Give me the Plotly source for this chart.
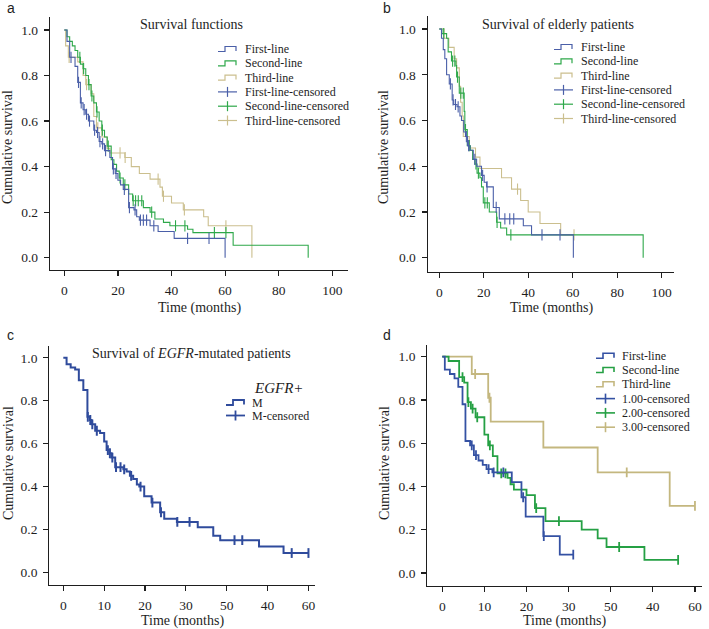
import plotly.graph_objects as go

W, H = 709, 629

# ---------------- DATA ----------------
# Panel a: Survival functions
A1_t = [0, 1, 2, 4, 5, 6, 7, 8, 9, 11, 12, 13, 14, 15, 17, 18, 19, 20, 21, 22, 24, 26, 27, 28, 32, 35, 41, 60]
A1_s = [1.0, 0.95, 0.88, 0.84, 0.77, 0.68, 0.65, 0.63, 0.60, 0.56, 0.55, 0.51, 0.50, 0.47, 0.44, 0.39, 0.37, 0.34, 0.32, 0.30, 0.22, 0.21, 0.18, 0.165, 0.14, 0.115, 0.085, 0.0]
A1_c = [2.5, 5.3, 6.3, 7.4, 8.3, 9.4, 11.3, 12.4, 13.3, 14.3, 15.4, 18.3, 19.3, 22.4, 24.3, 26.4, 28.4, 29.5, 30.7, 33.4, 46, 54]

A2_t = [0, 1, 2, 3, 4, 5, 6, 7, 8, 9, 10, 11, 12, 13, 14, 15, 16, 17.5, 18.5, 19.5, 20.5, 22, 24, 25.5, 29.5, 32, 33.8, 37, 39.4, 46, 48, 63, 91]
A2_s = [1.0, 0.97, 0.95, 0.93, 0.91, 0.88, 0.85, 0.83, 0.80, 0.76, 0.71, 0.68, 0.64, 0.60, 0.56, 0.53, 0.49, 0.43, 0.41, 0.38, 0.35, 0.32, 0.28, 0.25, 0.22, 0.20, 0.17, 0.155, 0.14, 0.125, 0.11, 0.055, 0.0]
A2_c = [5.8, 7.2, 9.2, 10.3, 12.2, 14.2, 16.4, 20.8, 22.6, 25.7, 26.6, 27.6, 28.9, 32.6, 41.5, 45, 56, 60.3]

A3_t = [0, 0.5, 1.5, 5, 7, 8, 10, 11, 12, 14, 16, 17, 22.6, 25, 28, 32, 35.7, 36.6, 40, 44.4, 52, 53.7, 70]
A3_s = [1.0, 0.93, 0.88, 0.86, 0.80, 0.76, 0.72, 0.62, 0.57, 0.53, 0.48, 0.46, 0.44, 0.40, 0.37, 0.345, 0.31, 0.27, 0.24, 0.21, 0.18, 0.14, 0.0]
A3_c = [1.8, 8.3, 12.5, 20.8, 22.7, 35, 37, 44.8, 60.3]

# Panel b: Survival of elderly patients
B1_t = [0, 1, 1.8, 2.5, 3.3, 4.5, 5.8, 6.5, 8, 9.3, 10, 11, 11.8, 12.7, 13.8, 15.3, 16.8, 19, 20.2, 21.3, 24.3, 27, 37.8, 41.5, 60.3]
B1_s = [1.0, 0.96, 0.91, 0.87, 0.80, 0.76, 0.69, 0.67, 0.66, 0.62, 0.60, 0.55, 0.53, 0.49, 0.47, 0.43, 0.40, 0.36, 0.33, 0.31, 0.22, 0.17, 0.14, 0.10, 0.0]
B1_c = [5.0, 6.2, 7.3, 8.5, 12.2, 13.2, 16.0, 19.5, 21.5, 25.6, 29.5, 31.7, 33.5, 46.2, 54.3]

B2_t = [0, 1.2, 3.3, 4, 5.5, 7.5, 7.8, 9, 11.2, 11.5, 12.6, 14, 15, 16, 17, 18.3, 19, 19.8, 22.5, 25.8, 27.6, 30.3, 91.7]
B2_s = [1.0, 0.98, 0.96, 0.90, 0.86, 0.84, 0.79, 0.72, 0.64, 0.56, 0.49, 0.47, 0.43, 0.41, 0.37, 0.35, 0.31, 0.24, 0.20, 0.155, 0.13, 0.10, 0.0]
B2_c = [2.0, 6.0, 7.0, 8.2, 9.7, 10.8, 11.8, 13.5, 16.5, 17.6, 20.5, 21.6, 26.0, 32.2]

B3_t = [0, 2.2, 4.3, 6.7, 7.8, 9.0, 9.6, 10.3, 10.8, 13.5, 16.3, 18.3, 28.0, 32.5, 36.6, 40.0, 45.3, 54.6, 60.6]
B3_s = [1.0, 0.96, 0.92, 0.87, 0.83, 0.75, 0.68, 0.62, 0.53, 0.48, 0.44, 0.39, 0.35, 0.30, 0.25, 0.20, 0.15, 0.10, 0.10]
B3_c = [35.2, 60.6]

# Panel c: Survival of EGFR-mutated patients
C_t = [0, 0.8, 1.8, 2.9, 3.8, 4.9, 5.9, 6.5, 6.9, 7.8, 9.0, 10.0, 10.6, 11.3, 11.8, 12.7, 14.7, 15.5, 16.3, 17.1, 18.0, 18.6, 19.8, 21.6, 23.7, 24.7, 27.8, 32.9, 36.7, 38.4, 47.9, 53.9, 60.0]
C_s = [1.0, 0.97, 0.955, 0.945, 0.895, 0.85, 0.725, 0.71, 0.69, 0.66, 0.65, 0.61, 0.57, 0.555, 0.535, 0.49, 0.48, 0.47, 0.45, 0.435, 0.41, 0.40, 0.355, 0.325, 0.28, 0.25, 0.235, 0.21, 0.17, 0.15, 0.12, 0.09, 0.09]
C_c = [6.0, 6.6, 7.1, 8.2, 10.9, 11.4, 12.0, 12.9, 14.0, 14.9, 16.6, 18.9, 21.8, 23.9, 27.9, 30.9, 41.9, 43.8, 55.9, 60.0]

# Panel d
D1_t = [0, 0.6, 1.8, 2.9, 3.8, 4.8, 5.5, 6.6, 7.5, 8.6, 9.6, 10.5, 11.9, 16.5, 18.8, 19.8, 24.0, 27.9, 31.1]
D1_s = [1.0, 0.94, 0.92, 0.90, 0.86, 0.78, 0.61, 0.59, 0.545, 0.52, 0.50, 0.48, 0.465, 0.42, 0.35, 0.26, 0.17, 0.085, 0.085]
D1_c = [7.0, 8.0, 11.0, 12.2, 14.5, 19.2, 24.1, 31.1]

D2_t = [0, 1.5, 4.0, 5.2, 6.0, 6.8, 7.9, 10.0, 10.9, 12.0, 13.1, 15.5, 16.2, 17.0, 20.0, 22.0, 24.5, 33.1, 36.9, 39.0, 48.0, 56.0]
D2_s = [1.0, 0.98, 0.905, 0.88, 0.79, 0.76, 0.72, 0.64, 0.59, 0.54, 0.46, 0.44, 0.41, 0.385, 0.36, 0.30, 0.24, 0.20, 0.16, 0.12, 0.06, 0.06]
D2_c = [4.8, 6.2, 7.2, 8.3, 11.3, 14.0, 15.0, 22.3, 27.7, 42.0, 56.0]

D3_t = [0, 7.0, 10.9, 11.5, 24.0, 36.9, 54.0, 60.0]
D3_s = [1.0, 0.92, 0.81, 0.70, 0.58, 0.465, 0.31, 0.31]
D3_c = [7.8, 11.2, 43.8, 60.0]

XTICKS_AB = [0, 20, 40, 60, 80, 100]
XTICKS_CD = [0, 10, 20, 30, 40, 50, 60]
XTICKTEXT_CD = ["0", "10", "20", "30", "50", "40", "60"]
YTICKS = [0.0, 0.2, 0.4, 0.6, 0.8, 1.0]

LEG_ABC = ["First-line", "Second-line", "Third-line",
           "First-line-censored", "Second-line-censored", "Third-line-censored"]
LEG_D = ["First-line", "Second-line", "Third-line",
         "1.00-censored", "2.00-censored", "3.00-censored"]

# ---------------- STYLE ----------------
BLUE = "#4a5fa8"
GREEN = "#2ea84a"
TAN = "#cbbf8e"
BLUE_C = "#2f4b9c"
BLUE_D = "#3451a3"
GREEN_D = "#25a044"
TAN_D = "#c4b77f"
SERIF = "Liberation Serif"
SANS = "Liberation Sans"
AX = "#1e1e1e"


def px(x):
    return x / W


def py(y):
    return 1 - y / H


def surv_at(ts, ss, t):
    v = ss[0]
    for ti, si in zip(ts, ss):
        if ti <= t + 1e-9:
            v = si
    return v


fig = go.Figure()

panels = {
    "a": ((50, 348), (17, 270), (-5.34, 105.86), (-0.054, 1.057)),
    "b": ((427.7, 674.3), (16, 271.7), (-5.2, 105.7), (-0.061, 1.057)),
    "c": ((49.3, 315), (346, 585), (-3.43, 61.6), (-0.059, 1.055)),
    "d": ((427.3, 701.7), (345, 585.7), (-3.56, 61.6), (-0.059, 1.054)),
}
axis_ids = {"a": ("x", "y"), "b": ("x2", "y2"), "c": ("x3", "y3"), "d": ("x4", "y4")}

series = {
    "a": [(A1_t, A1_s, A1_c, BLUE, 1.1), (A2_t, A2_s, A2_c, GREEN, 1.1), (A3_t, A3_s, A3_c, TAN, 1.1)],
    "b": [(B1_t, B1_s, B1_c, BLUE, 1.1), (B2_t, B2_s, B2_c, GREEN, 1.1), (B3_t, B3_s, B3_c, TAN, 1.1)],
    "c": [(C_t, C_s, C_c, BLUE_C, 2.0)],
    "d": [(D1_t, D1_s, D1_c, BLUE_D, 1.8), (D2_t, D2_s, D2_c, GREEN_D, 1.8), (D3_t, D3_s, D3_c, TAN_D, 1.8)],
}

for key in ["a", "b", "c", "d"]:
    xa, ya = axis_ids[key]
    for ts, ss, cs, col, lw in reversed(series[key]):
        fig.add_trace(go.Scatter(x=ts, y=ss, mode="lines", line=dict(color=col, width=lw, shape="hv"),
                                 xaxis=xa, yaxis=ya, showlegend=False, hoverinfo="skip"))
        fig.add_trace(go.Scatter(x=cs, y=[surv_at(ts, ss, c) for c in cs], mode="markers",
                                 marker=dict(symbol="line-ns", size=7 if key in ("c", "d") else 8,
                                             line=dict(color=col, width=lw if key in ("c", "d") else 1.1)),
                                 xaxis=xa, yaxis=ya, showlegend=False, hoverinfo="skip"))

common = dict(showline=True, linecolor=AX, linewidth=1.2, ticks="outside", ticklen=5,
              tickcolor=AX, tickwidth=1.2, showgrid=False, zeroline=False, mirror=False,
              tickfont=dict(family=SERIF, size=13.5, color=AX), ticklabelstandoff=3)

layout_axes = {}
for i, key in enumerate(["a", "b", "c", "d"]):
    (x0, x1), (yt, yb), xr, yr = panels[key]
    sfx = "" if i == 0 else str(i + 1)
    xd = dict(common, domain=[px(x0), px(x1)], range=list(xr), anchor="y" + sfx)
    if key in ("a", "b"):
        xd.update(tickvals=XTICKS_AB)
    else:
        xd.update(tickvals=XTICKS_CD, ticktext=XTICKTEXT_CD)
    yd = dict(common, domain=[py(yb), py(yt)], range=list(yr), anchor="x" + sfx,
              tickvals=YTICKS, tickformat=".1f")
    layout_axes["xaxis" + sfx] = xd
    layout_axes["yaxis" + sfx] = yd

annotations = []
shapes = []


def text(x, y, s, size=13, family=SERIF, xanchor="center", angle=0, color="#1e1e1e"):
    annotations.append(dict(x=px(x), y=py(y), xref="paper", yref="paper", text=s, showarrow=False,
                            xanchor=xanchor, yanchor="middle", textangle=angle,
                            font=dict(family=family, size=size, color=color)))


# panel letters
text(5, 8, "a", 14, SANS, "left")
text(381, 8, "b", 14, SANS, "left")
text(5, 335, "c", 14, SANS, "left")
text(381, 335, "d", 14, SANS, "left")

# titles
text(191.5, 25, "Survival functions", 14)
text(558, 25, "Survival of elderly patients", 14)
text(191.5, 353, "Survival of <i>EGFR</i>-mutated patients", 14)

# axis titles
for (cx, cy) in [(8, 147), (384, 147), (8, 463), (384, 463)]:
    text(cx, cy, "Cumulative survival", 14, angle=-90)
for (cx, cy) in [(199, 308), (551, 308), (182, 621), (564, 621)]:
    text(cx, cy, "Time (months)", 14)


def step_glyph(x0, y, col, lw=1.2):
    pts = [(x0, y + 2.5), (x0 + 7, y + 2.5), (x0 + 7, y - 2.5), (x0 + 18, y - 2.5), (x0 + 18, y + 2)]
    path = "M " + " L ".join(f"{px(a):.5f},{py(b):.5f}" for a, b in pts)
    shapes.append(dict(type="path", path=path, xref="paper", yref="paper",
                       line=dict(color=col, width=lw)))


def cens_glyph(x0, y, col, lw=1.2):
    shapes.append(dict(type="line", x0=px(x0), x1=px(x0 + 19), y0=py(y), y1=py(y),
                       xref="paper", yref="paper", line=dict(color=col, width=lw)))
    shapes.append(dict(type="line", x0=px(x0 + 9.5), x1=px(x0 + 9.5), y0=py(y - 5), y1=py(y + 5),
                       xref="paper", yref="paper", line=dict(color=col, width=lw)))


def legend(gx, tx, rows, labels, cols, lw=1.2):
    for i, (lab, yy) in enumerate(zip(labels, rows)):
        col = cols[i % 3]
        if i < 3:
            step_glyph(gx, yy, col, lw)
        else:
            cens_glyph(gx, yy, col, lw)
        text(tx, yy, lab, 12, xanchor="left")


legend(218, 243, [49, 63.3, 77.6, 91.9, 106.2, 120.5], LEG_ABC, [BLUE, GREEN, TAN])
legend(554, 579, [47, 61.3, 75.6, 89.9, 104.2, 118.5], LEG_ABC, [BLUE, GREEN, TAN])
legend(596, 620, [355.7, 370, 384.3, 398.6, 412.9, 427.2], LEG_D, [BLUE_D, GREEN_D, TAN_D], 1.6)

# panel c legend
text(252, 388, "<i>EGFR+</i>", 15, xanchor="left")
step_glyph(226, 402.5, BLUE_C, 1.8)
text(250, 402.5, "M", 12, xanchor="left")
cens_glyph(226, 415.5, BLUE_C, 1.8)
text(250, 415.5, "M-censored", 12, xanchor="left")

fig.update_layout(width=W, height=H, margin=dict(l=0, r=0, t=0, b=0),
                  paper_bgcolor="white", plot_bgcolor="white", showlegend=False,
                  annotations=annotations, shapes=shapes, **layout_axes)

fig.write_html("out.html", config={"displayModeBar": False, "staticPlot": True},
               post_script="document.body.style.margin='0';document.body.style.padding='0';"
                           "document.body.style.overflow='hidden';")
